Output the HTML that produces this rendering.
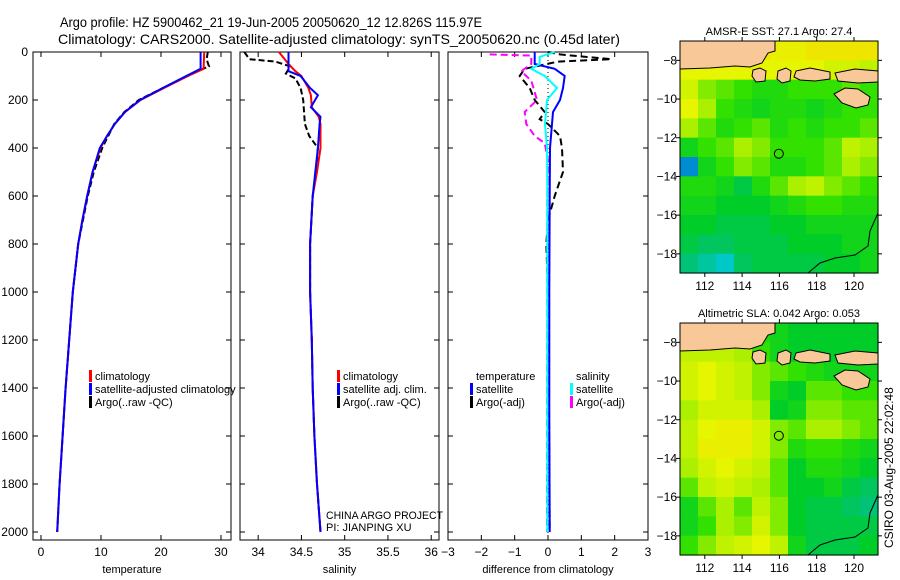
<!DOCTYPE html>
<html><head><meta charset="utf-8"><style>
body{margin:0;background:#fff;width:900px;height:580px;overflow:hidden}
svg{display:block;font-family:"Liberation Sans",sans-serif}
text{fill:#000}
</style></head><body>
<svg id="fig" width="900" height="580">
<text x="60" y="27" font-size="14" textLength="422" lengthAdjust="spacingAndGlyphs">Argo profile: HZ 5900462_21 19-Jun-2005 20050620_12 12.826S 115.97E</text>
<text x="58" y="44" font-size="14" textLength="562" lengthAdjust="spacingAndGlyphs">Climatology: CARS2000. Satellite-adjusted climatology: synTS_20050620.nc (0.45d later)</text>
</svg>
<script>
// ---------- data ----------
const depthTicks=[0,200,400,600,800,1000,1200,1400,1600,1800,2000];
const tempTicks=[0,10,20,30];
const salTicks=[34,34.5,35,35.5,36];
const diffTicks=[-3,-2,-1,0,1,2,3];
const tDepth=[0,70,100,150,200,250,300,350,400,500,600,700,800,1000,1200,1400,1600,1800,2000];
const tClim=[27.2,27.1,24.5,20.5,16.6,14,12.3,11,9.9,8.6,7.7,6.9,6.2,5.3,4.7,4.1,3.6,3.1,2.7];
const tSat=[26.6,26.6,24.2,20.3,16.5,14,12.3,11,9.8,8.6,7.7,6.9,6.2,5.3,4.7,4.1,3.6,3.1,2.7];
const tArgoDepth=[0,30,60,80,100,150,200,250,300,350,400,500,600,700,800,1000,1200,1400,1600,1800,2000];
const tArgo=[27.8,27.6,28,26,24.4,20.3,16.3,13.9,12.2,11.2,10.2,8.8,7.8,7,6.2,5.3,4.7,4.1,3.6,3.1,2.7];
const sDepth=[0,50,80,100,150,180,230,270,300,400,500,600,800,1000,1200,1400,1600,1800,2000];
const sClim=[34.24,34.35,34.43,34.5,34.58,34.61,34.62,34.7,34.72,34.72,34.68,34.63,34.6,34.6,34.62,34.63,34.65,34.68,34.72];
const sSat=[34.35,34.35,34.35,34.49,34.6,34.69,34.61,34.72,34.71,34.69,34.66,34.63,34.6,34.6,34.62,34.63,34.65,34.68,34.72];
const sArgoDepth=[0,30,40,60,90,110,150,200,300,350,400,500,600,800,1000,1200,1400,1600,1800,2000];
const sArgo=[33.84,33.9,34.2,34.37,34.32,34.43,34.49,34.52,34.54,34.59,34.69,34.67,34.63,34.6,34.6,34.62,34.63,34.65,34.68,34.72];
const dTDepth=[0,50,70,100,150,200,250,300,400,600,1000,1500,2000];
const dTSat=[-0.4,-0.4,0.2,0.5,0.45,0.36,0.15,0.12,0.06,0.05,0.04,0.04,0.05];
const dTArgoDepth=[0,10,20,30,40,70,100,150,200,250,280,300,350,400,500,600,700,800,1000,1500,2000];
const dTArgo=[0,0.36,1.1,1.9,0.3,-0.7,-0.85,-0.55,-0.4,-0.1,-0.25,0,0.36,0.42,0.45,0.2,0,-0.05,0,0.03,0.05];
const dSDepth=[0,20,50,70,100,150,200,300,400,600,1000,2000];
const dSSat=[0.2,-0.25,-0.25,-0.5,-0.1,0.27,-0.03,-0.09,-0.03,-0.02,-0.02,-0.02];
const dSArgoDepth=[10,15,50,80,120,200,250,300,350,380,450,600,1000,2000];
const dSArgo=[-1.75,-0.5,-0.5,-0.8,-0.5,-0.33,-0.7,-0.65,-0.4,-0.1,0,-0.02,-0.02,-0.03];
const lonTicks=[112,114,116,118,120];
const latTicks=[-8,-10,-12,-14,-16,-18];
const sstGrid=[
[0.9,0.9,0.9,0.9,0.9,0.85,0.85,0.9,0.9,0.9,0.9],
[0.8,0.8,0.8,0.8,0.8,0.8,0.8,0.8,0.75,0.75,0.7],
[0.75,0.6,0.55,0.5,0.45,0.45,0.5,0.5,0.5,0.55,0.5],
[0.8,0.65,0.5,0.45,0.4,0.45,0.45,0.4,0.45,0.5,0.5],
[0.65,0.55,0.45,0.5,0.55,0.45,0.5,0.45,0.5,0.5,0.55],
[0.4,0.5,0.55,0.65,0.6,0.5,0.5,0.5,0.55,0.7,0.65],
[0.05,0.4,0.5,0.6,0.55,0.45,0.45,0.5,0.55,0.65,0.6],
[0.45,0.45,0.4,0.3,0.45,0.55,0.65,0.7,0.6,0.55,0.5],
[0.4,0.4,0.35,0.35,0.35,0.4,0.45,0.5,0.5,0.45,0.45],
[0.35,0.35,0.3,0.3,0.3,0.35,0.35,0.4,0.4,0.4,0.4],
[0.3,0.25,0.25,0.3,0.3,0.3,0.35,0.35,0.35,0.4,0.4],
[0.2,0.15,0.1,0.25,0.3,0.3,0.3,0.3,0.35,0.35,0.4]];
const slaGrid=[
[0.5,0.5,0.5,0.5,0.45,0.4,0.35,0.35,0.35,0.35,0.35],
[0.7,0.7,0.7,0.65,0.5,0.4,0.35,0.35,0.35,0.35,0.35],
[0.75,0.8,0.75,0.7,0.6,0.55,0.5,0.45,0.4,0.4,0.4],
[0.75,0.8,0.75,0.7,0.6,0.4,0.35,0.55,0.55,0.5,0.5],
[0.65,0.75,0.75,0.75,0.65,0.35,0.4,0.6,0.6,0.55,0.55],
[0.7,0.8,0.85,0.85,0.75,0.6,0.55,0.65,0.65,0.6,0.55],
[0.7,0.85,0.85,0.85,0.75,0.6,0.45,0.5,0.5,0.45,0.4],
[0.65,0.75,0.8,0.75,0.7,0.55,0.35,0.45,0.45,0.4,0.35],
[0.55,0.7,0.75,0.7,0.65,0.55,0.35,0.35,0.4,0.3,0.25],
[0.4,0.55,0.65,0.55,0.7,0.6,0.35,0.3,0.3,0.25,0.2],
[0.4,0.5,0.65,0.6,0.75,0.6,0.35,0.3,0.3,0.3,0.3],
[0.5,0.6,0.7,0.75,0.8,0.7,0.4,0.3,0.3,0.3,0.35]];

// ---------- helpers ----------
const NS="http://www.w3.org/2000/svg";
const svg=document.getElementById('fig');
function mk(tag,attrs,parent){const e=document.createElementNS(NS,tag);for(const k in attrs)e.setAttribute(k,attrs[k]);(parent||svg).appendChild(e);return e;}
const Y0=52,Y1=540;
const yDepth=d=>Y0+d*0.24;
function profilePanel(name,x0,x1,vmin,vmax,ticks,labelFmt,xlabel){
  const g=mk('g',{});
  
  
  const r=mk('rect',{x:x0,y:Y0,width:x1-x0,height:Y1-Y0,fill:'#fff',stroke:'#000','stroke-width':1},g);
  
  
  const sx=v=>x0+(v-vmin)/(vmax-vmin)*(x1-x0);
  ticks.forEach(t=>{const x=sx(t);
    mk('line',{x1:x,x2:x,y1:Y1,y2:Y1-5,stroke:'#000'},g);mk('line',{x1:x,x2:x,y1:Y0,y2:Y0+5,stroke:'#000'},g);
    const tx=mk('text',{x:x,y:Y1+16,'font-size':12,'text-anchor':'middle'},g);tx.textContent=labelFmt(t);
    
    });
  depthTicks.forEach(d=>{const y=yDepth(d);mk('line',{x1:x0,x2:x0+5,y1:y,y2:y,stroke:'#000'},g);mk('line',{x1:x1,x2:x1-5,y1:y,y2:y,stroke:'#000'},g);});
  const xl=mk('text',{x:(x0+x1)/2,y:573,'font-size':11,'text-anchor':'middle'},g);xl.textContent=xlabel;
  
  
  return {g,sx};
}
function series(p,name,depths,vals,color,dash,w){
  const pts=vals.map((v,i)=>p.sx(v).toFixed(1)+','+yDepth(depths[i]).toFixed(1)).join(' ');
  const l=mk('polyline',{points:pts,fill:'none',stroke:color,'stroke-width':w||2,'stroke-dasharray':dash||'none'},p.g);
  
  
}
function legend(p,x,y,items){
  items.forEach((it,i)=>{const yy=y+i*13;
    if(it.c)mk('rect',{x:x,y:yy-10,width:3,height:12,fill:it.c},p.g);
    const t=mk('text',{x:x+6,y:yy,'font-size':11},p.g);t.textContent=it.t;
    
    });
}
depthTicks.forEach(d=>{const t=mk('text',{x:28,y:yDepth(d)+4,'font-size':12,'text-anchor':'end'});t.textContent=d;
  
  });

const p1=profilePanel('temperature-panel',33,231,-1.33,31.67,tempTicks,t=>t,'temperature');
series(p1,'argo-temperature-line',tArgoDepth,tArgo,'#000','6,3',2);
series(p1,'climatology-temperature-line',tDepth,tClim,'#f00','none',2);
series(p1,'satellite-temperature-line',tDepth,tSat,'#00f','none',2);
legend(p1,89,380,[{c:'#f00',t:'climatology'},{c:'#00f',t:'satellite-adjusted climatology'},{c:'#000',t:'Argo(..raw -QC)'}]);

const p2=profilePanel('salinity-panel',240,439,33.79,36.09,salTicks,t=>t,'salinity');
series(p2,'argo-salinity-line',sArgoDepth,sArgo,'#000','6,3',2);
series(p2,'climatology-salinity-line',sDepth,sClim,'#f00','none',2);
series(p2,'satellite-salinity-line',sDepth,sSat,'#00f','none',2);
legend(p2,337,380,[{c:'#f00',t:'climatology'},{c:'#00f',t:'satellite adj. clim.'},{c:'#000',t:'Argo(..raw -QC)'}]);

const p3=profilePanel('difference-panel',448,648,-3,3,diffTicks,t=>t<0?'\u2212'+(-t):t,'difference from climatology');
mk('line',{x1:548,x2:548,y1:Y0,y2:Y1,stroke:'#000','stroke-dasharray':'1,3'},p3.g);
series(p3,'argo-temperature-diff-line',dTArgoDepth,dTArgo,'#000','7,4',2);
series(p3,'argo-salinity-diff-line',dSArgoDepth,dSArgo,'#f0f','7,4',2);
series(p3,'satellite-temperature-diff-line',dTDepth,dTSat,'#00f','none',2);
series(p3,'satellite-salinity-diff-line',dSDepth,dSSat,'#0ff','none',2);
legend(p3,470,380,[{t:'temperature'},{c:'#00f',t:'satellite'},{c:'#000',t:'Argo(-adj)'}]);
legend(p3,570,380,[{t:'salinity'},{c:'#0ff',t:'satellite'},{c:'#f0f',t:'Argo(-adj)'}]);

const c1=mk('text',{x:326,y:519,'font-size':11,textLength:117,lengthAdjust:'spacingAndGlyphs'});c1.textContent='CHINA ARGO PROJECT';


const c2=mk('text',{x:326,y:531,'font-size':11});c2.textContent='PI: JIANPING XU';



// ---------- maps ----------
function cmap(v){
  const stops=[[0,[0,80,220]],[0.1,[0,200,200]],[0.2,[0,195,120]],[0.35,[0,205,40]],[0.5,[50,225,0]],[0.65,[170,240,0]],[0.8,[230,245,0]],[1,[245,215,0]]];
  for(let i=1;i<stops.length;i++){if(v<=stops[i][0]){const a=stops[i-1],b=stops[i],f=(v-a[0])/(b[0]-a[0]);
    return 'rgb('+a[1].map((c,j)=>Math.round(c+(b[1][j]-c)*f)).join(',')+')';}}
  return 'rgb(245,215,0)';
}
function mapPanel(name,mx,my,grid,title){
  const W=198,H=232;
  const g=mk('g',{});
  
  
  const rows=grid.length,cols=grid[0].length,cw=W/cols,ch=H/rows;
  grid.forEach((row,r)=>row.forEach((v,c)=>{
    const cell=mk('rect',{x:(mx+c*cw).toFixed(2),y:(my+r*ch).toFixed(2),width:(cw+0.6).toFixed(2),height:(ch+0.6).toFixed(2),fill:cmap(v)},g);
    
    
  }));
  const land='#f8c898';
  const lands=[
    [[0,0],[95,0],[95,10],[88,12],[82,22],[70,26],[55,25],[30,27],[0,28]],
    [[73,29],[80,27],[86,30],[85,40],[76,41],[72,35]],
    [[98,30],[106,27],[111,30],[110,40],[102,42],[97,38]],
    [[116,30],[130,27],[140,29],[150,31],[150,38],[135,40],[120,39],[114,36]],
    [[155,32],[175,28],[198,30],[198,41],[178,42],[158,40]],
    [[154,53],[165,47],[178,48],[190,56],[188,64],[176,67],[162,62]]
  ];
  lands.forEach(pl=>{const p=mk('polygon',{points:pl.map(q=>(mx+q[0])+','+(my+q[1])).join(' '),fill:land,stroke:'#000','stroke-width':1},g);
    
    });
  mk('polyline',{points:[[198,172],[190,190],[188,205],[175,214],[155,217],[140,222],[128,232]].map(q=>(mx+q[0])+','+(my+q[1])).join(' '),fill:'none',stroke:'#000','stroke-width':1},g);
  const sx=lon=>mx+(lon-110.67)*18.65, sy=lat=>my+(-7.0-lat)*19.35;
  const mark=mk('circle',{cx:sx(115.97),cy:sy(-12.826),r:4.5,fill:'none',stroke:'#000','stroke-width':1},g);
  
  
  mk('rect',{x:mx,y:my,width:W,height:H,fill:'none',stroke:'#000'},g);
  lonTicks.forEach(l=>{const x=sx(l);mk('line',{x1:x,x2:x,y1:my,y2:my-4,stroke:'#000'},g);mk('line',{x1:x,x2:x,y1:my+H,y2:my+H+4,stroke:'#000'},g);
    const t=mk('text',{x:x,y:my+H+17,'font-size':12,'text-anchor':'middle'},g);t.textContent=l;
    
    });
  latTicks.forEach(l=>{const y=sy(l);mk('line',{x1:mx,x2:mx-4,y1:y,y2:y,stroke:'#000'},g);mk('line',{x1:mx+W,x2:mx+W+4,y1:y,y2:y,stroke:'#000'},g);
    const t=mk('text',{x:mx-3,y:y+4,'font-size':12,'text-anchor':'end'},g);t.textContent='\u2212'+(-l);
    
    });
  const tt=mk('text',{x:mx+W/2,y:my-6,'font-size':11,'text-anchor':'middle'},g);tt.textContent=title;
  
  
}
mapPanel('sst-map',680,41,sstGrid,'AMSR-E SST: 27.1 Argo: 27.4');
mapPanel('sla-map',680,323,slaGrid,'Altimetric SLA: 0.042 Argo: 0.053');
const stamp=mk('text',{x:893,y:548,'font-size':12,transform:'rotate(-90 893 548)'});
stamp.textContent='CSIRO 03-Aug-2005 22:02:48';


</script>
</body></html>
